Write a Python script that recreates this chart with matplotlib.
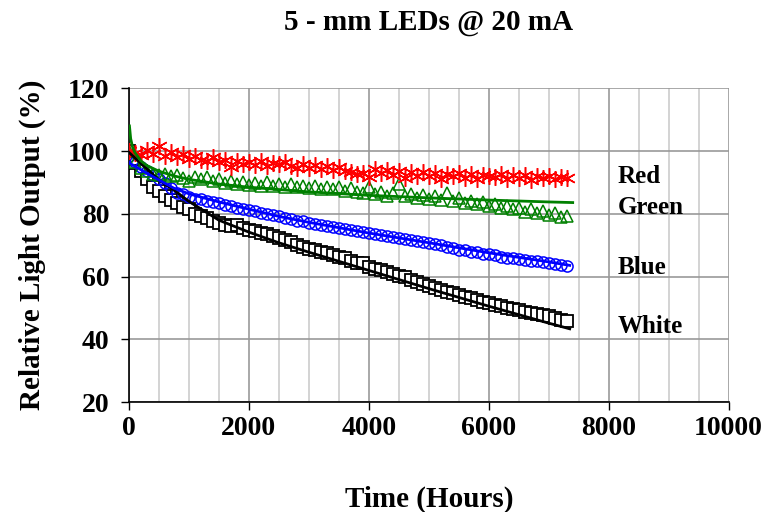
import numpy as np
import matplotlib
matplotlib.use("Agg")
import matplotlib.pyplot as plt
from matplotlib.ticker import MultipleLocator

plt.rcParams['font.family'] = ['Liberation Serif', 'DejaVu Serif']
plt.rcParams['font.weight'] = 'bold'

# measured hours (every 100 h)
hours = np.arange(0, 7301, 100)

red = [100.0, 99.5, 98.8, 100.5, 99.0, 101.5, 98.5, 99.8, 98.2, 99.0,
       97.6, 98.4, 97.2, 96.8, 98.0, 96.5, 97.3, 94.8, 96.8, 96.0,
       96.5, 95.6, 96.8, 95.4, 96.2, 95.8, 96.6, 95.2, 94.6, 95.8,
       94.7, 95.5, 94.3, 95.2, 94.0, 94.8, 93.6, 93.2, 92.6, 93.0,
       91.8, 94.2, 93.0, 94.0, 92.5, 93.6, 91.4, 93.2, 92.0, 93.4,
       92.2, 93.0, 91.2, 92.8, 92.0, 93.0, 91.5, 92.6, 91.0, 92.4,
       92.0, 91.6, 92.8, 91.2, 92.3, 91.5, 92.4, 90.8, 92.0, 91.4,
       92.1, 91.2, 91.8, 91.4]

green = [100.0, 96.5, 94.5, 93.5, 92.8, 92.3, 92.8, 92.0, 92.5, 91.4,
         90.5, 91.8, 91.0, 91.6, 90.6, 91.2, 89.8, 90.4, 89.4, 90.2,
         89.2, 89.8, 89.0, 90.0, 88.8, 89.6, 88.6, 89.4, 88.4, 89.0,
         88.2, 89.0, 88.0, 88.7, 87.8, 88.5, 87.4, 88.2, 87.0, 86.5,
         88.4, 86.2, 87.0, 85.8, 86.6, 89.6, 85.6, 86.4, 85.2, 86.0,
         84.8, 85.6, 84.4, 86.8, 84.2, 85.0, 83.4, 84.2, 83.0, 83.8,
         82.4, 83.2, 81.8, 82.6, 81.4, 82.0, 80.6, 81.6, 80.2, 81.0,
         79.6, 80.4, 79.0, 79.2]

blue = [98.5, 96.5, 94.8, 93.8, 92.4, 91.2, 89.8, 88.2, 86.8, 86.2,
        85.4, 84.8, 84.6, 84.0, 83.8, 83.4, 82.8, 82.6, 81.9, 81.6,
        81.2, 80.9, 80.4, 80.1, 79.6, 79.2, 78.6, 78.3, 77.8, 77.6,
        77.2, 76.9, 76.6, 76.2, 75.9, 75.6, 75.2, 74.9, 74.6, 74.2,
        74.0, 73.6, 73.4, 73.0, 72.7, 72.4, 72.0, 71.8, 71.4, 71.1,
        70.8, 70.4, 70.0, 69.3, 69.0, 68.6, 68.4, 68.0, 67.8, 67.3,
        67.1, 66.8, 66.4, 66.1, 65.8, 65.5, 65.3, 65.0, 64.9, 64.6,
        64.5, 64.0, 63.6, 63.3]

white = [100.0, 96.3, 93.6, 91.0, 88.6, 87.2, 85.7, 84.4, 83.4, 82.3,
         81.4, 80.0, 79.2, 78.6, 77.8, 77.2, 76.3, 76.0, 76.6, 75.4,
         74.8, 74.6, 74.0, 73.6, 72.8, 72.3, 71.8, 70.9, 70.2, 69.6,
         68.8, 68.4, 67.8, 67.4, 66.9, 66.4, 65.8, 65.0, 64.4, 64.2,
         63.0, 62.6, 62.0, 61.6, 60.8, 60.2, 59.8, 59.1, 58.4, 57.8,
         57.1, 56.5, 55.9, 55.2, 54.7, 54.2, 53.6, 53.1, 52.5, 52.0,
         51.6, 51.0, 50.6, 50.1, 49.8, 49.4, 48.9, 48.5, 48.1, 47.8,
         47.4, 46.8, 46.2, 45.8]

# trend lines
green_fit_h = [10, 30, 60, 100, 200, 300, 500, 750, 1000, 1500, 2000, 3000, 4000, 5000, 6000, 7000, 7400]
green_fit = [108.0, 104.0, 101.4, 99.5, 96.9, 95.4, 93.6, 92.1, 91.0, 89.5, 88.5, 87.0, 85.9, 85.1, 84.4, 83.8, 83.6]
fit_h = [0, 250, 500, 750, 1000, 1500, 2000, 2500, 3000, 4000, 5000, 6000, 7000, 7350]
blue_fit = [96.3, 93.5, 90.8, 88.2, 86.4, 83.8, 81.5, 79.2, 77.3, 73.9, 70.8, 67.6, 64.7, 63.6]
white_fit = [99.6, 95.2, 90.8, 87.6, 84.0, 78.0, 74.2, 70.8, 67.8, 62.0, 56.2, 50.6, 45.2, 43.4]

names = ['Red', 'Green', 'Blue', 'White']
label_y = [91.9, 82.1, 63.0, 44.2]

fig = plt.figure(figsize=(7.67, 5.12), dpi=100)
ax = fig.add_axes([0.168, 0.2143, 0.782, 0.6133])

ax.plot(hours, white, ls='none', marker='s', ms=9, mfc='white', mec='black', mew=1.3, zorder=3)
ax.plot(hours, blue, ls='none', marker='o', ms=8, mfc='none', mec='#0000ff', mew=1.1, zorder=3)
ax.plot(hours, green, ls='none', marker='^', ms=9, mfc='none', mec='#008000', mew=1.1, zorder=3)
ax.plot(hours, red, ls='none', marker=(6, 2, 0), ms=12, mec='#ff0000', mew=1.1, zorder=3)

ax.plot(fit_h, white_fit, color='black', lw=2, zorder=4)
ax.plot(fit_h, blue_fit, color='#0000ff', lw=2, zorder=4)
ax.plot(green_fit_h, green_fit, color='#008000', lw=2, zorder=4)

for n, y in zip(names, label_y):
    ax.text(8150, y, n, fontsize=18, fontweight='bold', va='center', ha='left')

ax.set_xlim(0, 10000)
ax.set_ylim(20, 120)
ax.xaxis.set_major_locator(MultipleLocator(2000))
ax.xaxis.set_minor_locator(MultipleLocator(500))
ax.yaxis.set_major_locator(MultipleLocator(20))
ax.grid(True, which='major', axis='both', color='#999999', lw=1.2, zorder=0)
ax.grid(True, which='minor', axis='x', color='#cccccc', lw=1.2, zorder=0)
ax.set_axisbelow(True)
ax.tick_params(which='minor', length=0)
ax.tick_params(which='major', direction='out', length=6, width=1, labelsize=20)
ax.tick_params(axis='x', pad=4)
ax.tick_params(axis='y', pad=8)
for s in ['top', 'right']:
    ax.spines[s].set_visible(False)
for s in ['left', 'bottom']:
    ax.spines[s].set_linewidth(1.2)

ax.set_title('5 - mm LEDs @ 20 mA', fontsize=21, fontweight='bold', pad=42)
ax.set_xlabel('Time (Hours)', fontsize=21, fontweight='bold', labelpad=32)
ax.set_ylabel('Relative Light Output (%)', fontsize=21, fontweight='bold', labelpad=16)

fig.savefig('out.png', dpi=100)
